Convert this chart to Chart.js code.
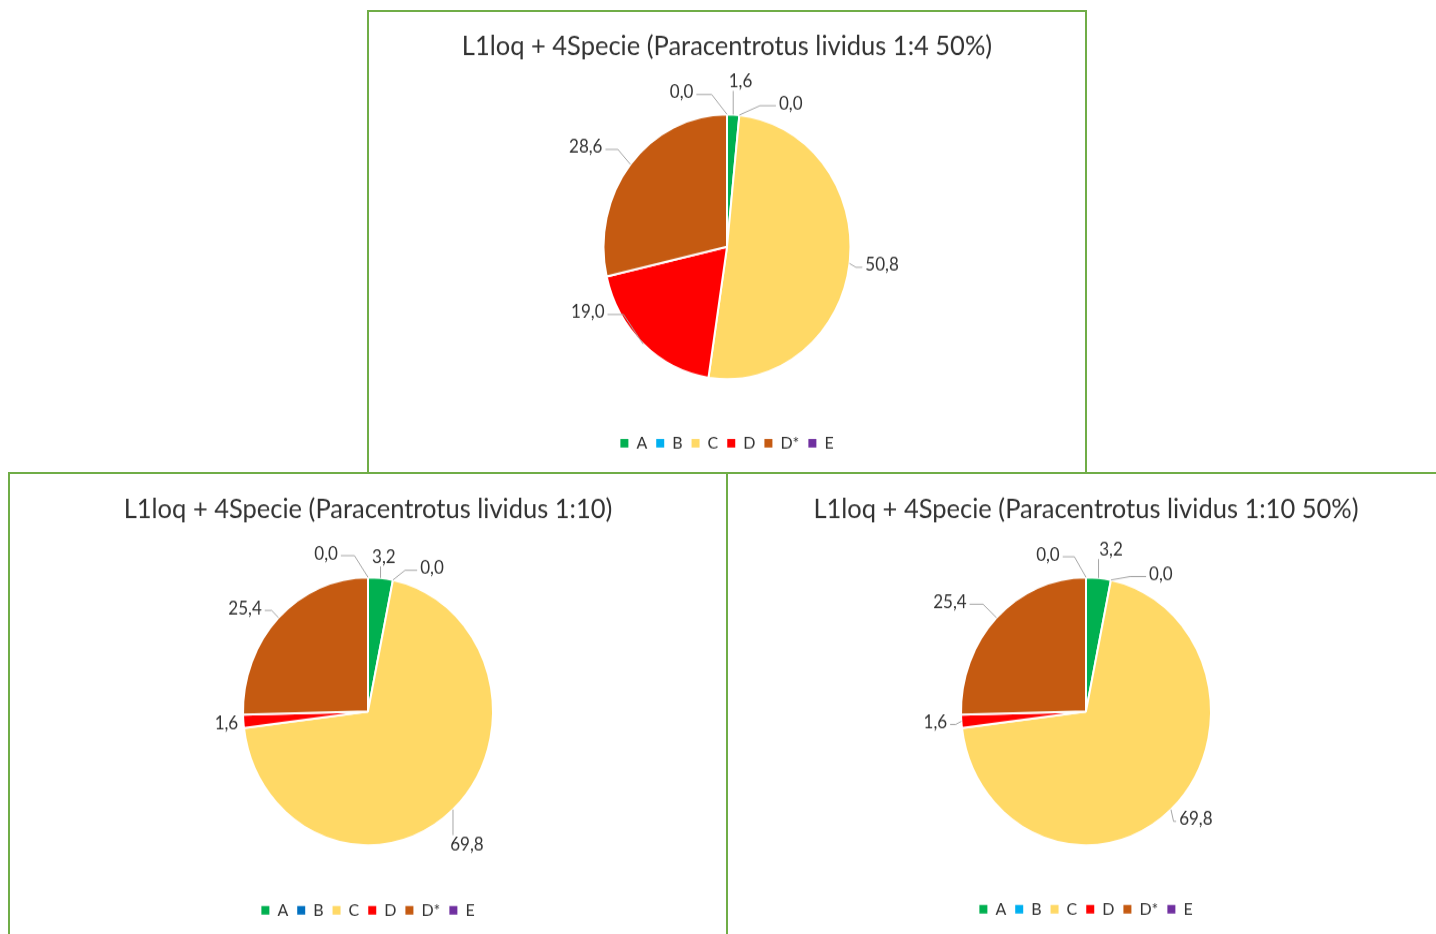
<!DOCTYPE html>
<html>
<head>
<meta charset="utf-8">
<script src="https://cdn.jsdelivr.net/npm/chart.js@4.4.1/dist/chart.umd.min.js"></script>
<style>
    html, body { margin: 0; padding: 0; background: #fff; overflow: hidden; }
    body { width: 1436px; height: 934px; position: relative; }
    .box { position: absolute; box-sizing: border-box; border: 2px solid #70ad47; }
    .plot { position: absolute; transform: scaleY(1.07); transform-origin: top left; }
</style>
</head>
<body>
<div class="box" style="left:367px; top:10px; width:720px; height:464px;"></div>
<div class="box" style="left:8px; top:472px; width:720px; height:480px;"></div>
<div class="box" style="left:726px; top:472px; width:720px; height:480px;"></div>

<div class="plot" id="wrap-top"><canvas id="chart-top"></canvas></div>
<div class="plot" id="wrap-left"><canvas id="chart-left"></canvas></div>
<div class="plot" id="wrap-right"><canvas id="chart-right"></canvas></div>

<script>
// Classi di sviluppo larvale
const categories = ['A', 'B', 'C', 'D', 'D*', 'E'];

const titleTop = 'L1loq + 4Specie (Paracentrotus lividus 1:4 50%)';
const titleLeft = 'L1loq + 4Specie (Paracentrotus lividus 1:10)';
const titleRight = 'L1loq + 4Specie (Paracentrotus lividus 1:10 50%)';

// percentuali per classe
const valuesTop = [1.6, 0.0, 50.8, 19.0, 28.6, 0.0];
const valuesLeft = [3.2, 0.0, 69.8, 1.6, 25.4, 0.0];
const valuesRight = [3.2, 0.0, 69.8, 1.6, 25.4, 0.0];

const colorsLight = ['#00b050', '#00b0f0', '#ffd966', '#ff0000', '#c55a11', '#7030a0'];
const colorsDark = ['#00b050', '#0070c0', '#ffd966', '#ff0000', '#c55a11', '#7030a0'];

// posizione etichette: [angolo in gradi da ore 12, distanza dal centro]
const labelsTop = [[5, 155], [25.5, 148], [96.3, 156], [246.3, 152], [303.3, 169], [342.5, 151]];
const labelsLeft = [[6.3, 145], [25.6, 148], [141.5, 159], [265.5, 142], [308, 156], [344.1, 153]];
const labelsRight = [[9.4, 153], [30.4, 148], [132.5, 149], [266.1, 151], [306.8, 170], [345.4, 151]];

const SCALE_Y = 1.07;
const FONT = 'Lato, "Open Sans", sans-serif';
const TEXT_COLOR = '#333333';

// etichette esterne con linee guida
const outsideLabels = {
    id: 'outsideLabels',
    afterDatasetsDraw(chart, args, opts) {
        const { ctx } = chart;
        const meta = chart.getDatasetMeta(0);
        const values = chart.data.datasets[0].data;
        ctx.save();
        ctx.font = `${opts.size}px ${FONT}`;
        ctx.textAlign = 'center';
        ctx.textBaseline = 'middle';
        meta.data.forEach((arc, i) => {
            const { x, y, startAngle, endAngle, outerRadius } =
                arc.getProps(['x', 'y', 'startAngle', 'endAngle', 'outerRadius'], true);
            const mid = (startAngle + endAngle) / 2;
            const px = x + Math.cos(mid) * outerRadius;
            const py = y + Math.sin(mid) * outerRadius;

            const [deg, dist] = opts.place[i];
            const a = deg * Math.PI / 180;
            const lx = x + Math.sin(a) * dist;
            const ly = y - Math.cos(a) * dist;

            const text = values[i].toFixed(1).replace('.', ',');
            const hw = ctx.measureText(text).width / 2;

            let qx, qy, ex, ey;
            if (px < lx - hw - 8) {
                qx = lx - hw - 3; qy = ly + 2;
                ex = qx - Math.min(16, Math.abs(px - qx) / 2); ey = qy;
            } else if (px > lx + hw + 8) {
                qx = lx + hw + 3; qy = ly + 2;
                ex = qx + Math.min(16, Math.abs(px - qx) / 2); ey = qy;
            } else {
                qx = px; qy = py > ly ? ly + 9 : ly - 9;
                ex = qx; ey = qy;
            }
            if (Math.hypot(px - qx, py - qy) > 8) {
                ctx.strokeStyle = '#a6a6a6';
                ctx.lineWidth = 1;
                ctx.beginPath();
                ctx.moveTo(px, py);
                ctx.lineTo(ex, ey);
                ctx.lineTo(qx, qy);
                ctx.stroke();
            }
            ctx.fillStyle = TEXT_COLOR;
            ctx.fillText(text, lx, ly);
        });
        ctx.restore();
    }
};

// quadratini della legenda senza bordo bianco
function legendItems(chart) {
    return Chart.overrides.pie.plugins.legend.labels.generateLabels(chart)
        .map(item => ({ ...item, lineWidth: 0 }));
}

// panel: riquadro in pixel di pagina, centro torta e legenda in pixel di pagina
function buildPie(canvasId, wrapId, panel) {
    const wrap = document.getElementById(wrapId);
    const h = panel.height / SCALE_Y;
    wrap.style.left = panel.left + 'px';
    wrap.style.top = panel.top + 'px';
    wrap.style.width = panel.width + 'px';
    wrap.style.height = h + 'px';

    const titleSize = 25.5, legendSize = 16;
    const titleCenter = (panel.titleY - panel.top) / SCALE_Y;
    const pieCenter = (panel.cy - panel.top) / SCALE_Y;
    const legendCenter = (panel.legendY - panel.top) / SCALE_Y;

    const legendItem = legendSize * 1.2;
    const legendBlock = legendItem + 10 + 10;
    const padBottom = h - legendCenter - (10 + legendItem / 2);
    const legendTop = h - padBottom - legendBlock;
    const titlePadTop = titleCenter - titleSize * 1.2 / 2;
    const areaTop = 2 * pieCenter - legendTop;
    const titlePadBottom = areaTop - titlePadTop - titleSize * 1.2;

    return new Chart(document.getElementById(canvasId), {
        type: 'pie',
        data: {
            labels: categories,
            datasets: [{
                data: panel.values,
                backgroundColor: panel.colors,
                borderColor: '#ffffff',
                borderWidth: 2,
                radius: panel.radius
            }]
        },
        options: {
            responsive: true,
            maintainAspectRatio: false,
            animation: false,
            layout: { padding: { top: 0, bottom: padBottom, left: 0, right: 0 } },
            plugins: {
                title: {
                    display: true,
                    text: panel.title,
                    color: TEXT_COLOR,
                    font: { family: FONT, size: titleSize, weight: 'normal' },
                    padding: { top: titlePadTop, bottom: titlePadBottom }
                },
                legend: {
                    position: 'bottom',
                    labels: {
                        boxWidth: 8,
                        boxHeight: 8,
                        padding: 9,
                        color: TEXT_COLOR,
                        font: { family: FONT, size: legendSize },
                        generateLabels: legendItems
                    }
                },
                tooltip: { enabled: false },
                outsideLabels: { place: panel.place, size: 17 }
            }
        },
        plugins: [outsideLabels]
    });
}

function build() {
    buildPie('chart-top', 'wrap-top', {
        left: 367, top: 10, width: 720, height: 463,
        titleY: 46, cy: 244, legendY: 440.5, radius: 123.5,
        title: titleTop, values: valuesTop, colors: colorsLight, place: labelsTop
    });
    buildPie('chart-left', 'wrap-left', {
        left: 8, top: 473, width: 720, height: 461,
        titleY: 509, cy: 708.5, legendY: 907.5, radius: 125,
        title: titleLeft, values: valuesLeft, colors: colorsDark, place: labelsLeft
    });
    buildPie('chart-right', 'wrap-right', {
        left: 726, top: 473, width: 720, height: 461,
        titleY: 509, cy: 708.5, legendY: 906.5, radius: 125,
        title: titleRight, values: valuesRight, colors: colorsLight, place: labelsRight
    });
}

document.fonts.load('16px Lato').then(build, build);
</script>
</body>
</html>
